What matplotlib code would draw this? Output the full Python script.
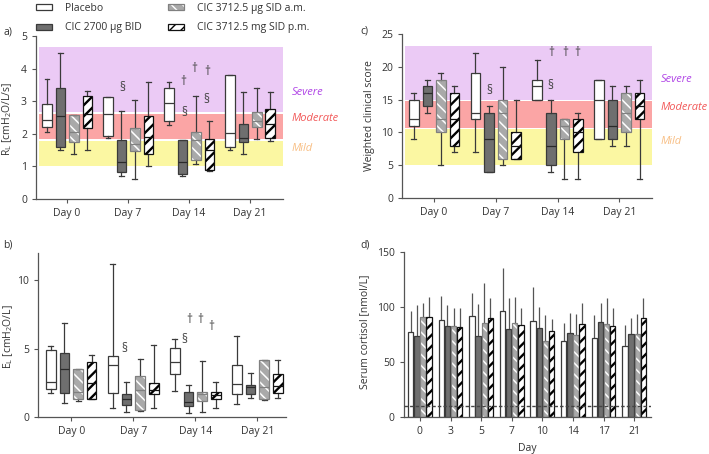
import numpy as np
import matplotlib.pyplot as plt
from matplotlib.patches import Patch, PathPatch
from matplotlib.legend_handler import HandlerTuple

plt.rcParams['font.family'] = ['Open Sans', 'DejaVu Sans']
plt.rcParams['font.size'] = 7.5
plt.rcParams['hatch.linewidth'] = 1.0

groups = ['Placebo', 'CIC 2700 µg BID', 'CIC 3712.5 µg SID a.m.', 'CIC 3712.5 mg SID p.m.']
box_days = ['Day 0', 'Day 7', 'Day 14', 'Day 21']

# box values per day: [whisker low, q1, median, q3, whisker high]
rl_placebo = [[2.07, 2.2, 2.42, 2.91, 3.68], [1.87, 1.92, 2.6, 3.12, 3.12],
              [2.28, 2.39, 2.94, 3.42, 3.58], [1.49, 1.58, 2.02, 3.79, 3.79]]
rl_2700 = [[1.51, 1.58, 2.55, 3.4, 4.48], [0.69, 0.84, 1.13, 1.82, 2.69],
           [0.69, 0.76, 1.13, 1.82, 1.82], [1.37, 1.74, 1.87, 2.3, 3.28]]
rl_am = [[1.37, 1.76, 2.04, 2.57, 2.58], [0.6, 1.46, 1.68, 2.17, 3.05],
         [1.08, 1.2, 1.82, 2.07, 3.15], [1.84, 2.2, 2.38, 2.66, 3.42]]
rl_pm = [[1.51, 2.19, 2.6, 3.15, 3.3], [1.02, 1.39, 1.9, 2.54, 3.58],
         [0.86, 0.89, 1.5, 1.83, 2.38], [1.78, 1.86, 2.3, 2.76, 3.28]]

el_placebo = [[1.74, 2.03, 2.54, 4.87, 5.16], [0.68, 1.74, 3.81, 4.47, 11.2],
              [1.93, 3.15, 4.0, 5.04, 5.7], [0.95, 1.66, 2.42, 3.77, 5.94]]
el_2700 = [[1.0, 1.74, 3.5, 4.67, 6.87], [0.39, 0.86, 1.32, 1.69, 2.52],
           [0.32, 0.83, 1.12, 1.81, 2.35], [1.37, 1.66, 2.22, 2.35, 3.2]]
el_am = [[1.17, 1.32, 1.81, 3.52, 3.52], [0.44, 0.51, 1.98, 3.0, 4.23],
         [0.39, 1.17, 1.66, 1.86, 4.06], [1.25, 1.3, 2.22, 4.18, 4.18]]
el_pm = [[1.32, 1.32, 2.5, 3.99, 4.5], [0.66, 1.66, 2.0, 2.47, 5.23],
         [0.64, 1.32, 1.6, 1.86, 2.59], [1.37, 1.78, 2.3, 3.13, 4.18]]

wcs_placebo = [[9, 11, 12, 15, 16], [7, 12, 13, 19, 22], [15, 15, 17, 18, 21], [9, 9, 15, 18, 18]]
wcs_2700 = [[13, 14, 16, 17, 18], [4, 4, 9, 13, 14], [4, 5, 8, 13, 15], [8, 9, 11, 15, 17]]
wcs_am = [[5, 10, 12, 18, 19], [5, 6, 13, 15, 20], [3, 9, 11, 12, 12], [8, 10, 13, 16, 17]]
wcs_pm = [[7, 8, 12, 16, 17], [6, 6, 8, 10, 15], [3, 7, 10, 12, 13], [3, 12, 14, 16, 18]]

# severity bands (low, high)
rl_bands = [(2.66, 4.65), (1.83, 2.62), (1.0, 1.78)]
wcs_bands = [(15.0, 23.1), (10.7, 14.8), (5.06, 10.5)]
band_names = ['Severe', 'Moderate', 'Mild']
rl_band_label_y = [3.27, 2.46, 1.55]
wcs_band_label_y = [18.0, 13.8, 8.6]

# significance marks (x in day-group units, y, symbol)
rl_marks = [(0.91, 3.42, '§'), (1.90, 3.6, '†'), (2.08, 4.0, '†'), (2.30, 3.9, '†'),
            (1.92, 2.65, '§'), (2.28, 3.05, '§')]
el_marks = [(0.85, 5.0, '§'), (1.82, 5.65, '§'), (1.90, 7.1, '†'), (2.085, 7.1, '†'),
            (2.25, 6.6, '†')]
wcs_marks = [(0.89, 16.3, '§'), (1.88, 17.2, '§'), (1.90, 22.1, '†'), (2.12, 22.1, '†'),
             (2.32, 22.1, '†')]

cort_days = ['0', '3', '5', '7', '10', '14', '17', '21']
cort_placebo = [77.7, 88.4, 92.0, 96.3, 87.2, 69.2, 71.7, 65.0]
cort_placebo_sd = [19, 22, 21, 39, 31, 16, 21, 19]
cort_2700 = [73.8, 82.9, 73.8, 80.2, 80.8, 76.2, 86.2, 75.3]
cort_2700_sd = [28, 19, 29, 28, 19, 18.5, 17.4, 14.6]
cort_am = [91.4, 82.9, 85.3, 85.9, 69.5, 74.7, 84.4, 75.9]
cort_am_sd = [12.2, 16.1, 36.5, 23.7, 23.4, 18.8, 23.7, 17.6]
cort_pm = [91.4, 82.3, 89.9, 83.8, 78.3, 84.4, 82.9, 89.9]
cort_pm_sd = [18.2, 16.7, 18.2, 15.2, 10.7, 19.8, 16.1, 18.8]
cort_limit = 10

band_colors = ['#ebcaf5', '#fba5a5', '#fbf7a2']
band_text_colors = ['#b044e6', '#f25a5a', '#f8bf85']
axis_color = '#555555'
text_color = '#333333'

styles = [
    dict(face='white', edge='#3a3a3a', hatch=None, hcolor=None, hlw=1.0),
    dict(face='#6f6f6f', edge='#3a3a3a', hatch=None, hcolor=None, hlw=1.0),
    dict(face='#a9a9a9', edge='#808080', hatch='\\\\\\', hcolor='white', hlw=1.1),
    dict(face='white', edge='#111111', hatch='///', hcolor='black', hlw=1.7),
]


def style_patch(ax, p, k):
    s = styles[k]
    p.set_facecolor(s['face'])
    if s['hatch']:
        p.set_hatch(s['hatch'])
        p.set_edgecolor(s['hcolor'])
        p.set_linewidth(0)
        if hasattr(p, 'set_hatch_linewidth'):
            p.set_hatch_linewidth(s['hlw'])
        outline = PathPatch(p.get_path(), transform=p.get_transform(), fill=False,
                            edgecolor=s['edge'], lw=0.9, zorder=p.get_zorder() + 0.1)
        ax.add_patch(outline)
    else:
        p.set_edgecolor(s['edge'])
        p.set_linewidth(0.9)


def setup_axes(ax):
    for side in ['top', 'right']:
        ax.spines[side].set_visible(False)
    for side in ['left', 'bottom']:
        ax.spines[side].set_color(axis_color)
        ax.spines[side].set_linewidth(0.9)
    ax.tick_params(length=3, width=0.8, color=axis_color, labelcolor=text_color, labelsize=7.5)


def box_panel(ax, series, ylim, yticks, xlim, bands=None, band_label_y=None, marks=()):
    setup_axes(ax)
    offsets = [-0.33, -0.11, 0.11, 0.33]
    for k, data in enumerate(series):
        stats = [dict(whislo=d[0], q1=d[1], med=d[2], q3=d[3], whishi=d[4]) for d in data]
        pos = np.arange(len(data)) + offsets[k]
        col = styles[k]['edge']
        res = ax.bxp(stats, positions=pos, widths=0.155, capwidths=0.08, patch_artist=True,
                     showfliers=False, manage_ticks=False,
                     whiskerprops=dict(color='#3a3a3a', lw=0.9),
                     capprops=dict(color='#3a3a3a', lw=0.9),
                     medianprops=dict(color=col if k != 1 else '#2a2a2a', lw=0.9),
                     boxprops=dict(zorder=2))
        for b in res['boxes']:
            style_patch(ax, b, k)
    if bands:
        x0 = 0.012
        for (lo, hi), c in zip(bands, band_colors):
            ax.axhspan(lo, hi, xmin=x0, xmax=1, color=c, lw=0, zorder=0)
        tr = ax.get_yaxis_transform()
        for name, yy, c in zip(band_names, band_label_y, band_text_colors):
            ax.text(1.035, yy, name, transform=tr, color=c, style='italic', fontsize=8,
                    va='center', ha='left')
    for x, y, s in marks:
        ax.text(x, y, s, ha='center', va='center', fontsize=8.5, color='#444444')
    ax.set_xlim(*xlim)
    ax.set_ylim(*ylim)
    ax.set_yticks(yticks)
    ax.set_xticks(range(len(box_days)))
    ax.set_xticklabels(box_days)


fig = plt.figure(figsize=(7.09, 4.54), dpi=100)

ax_a = fig.add_axes([0.0508, 0.5617, 0.3484, 0.359])
box_panel(ax_a, [rl_placebo, rl_2700, rl_am, rl_pm], (0, 5), [0, 1, 2, 3, 4, 5], (-0.51, 3.54),
          rl_bands, rl_band_label_y, rl_marks)
ax_a.set_ylabel(r'R$_\mathregular{L}$ [cmH$_\mathregular{2}$O/L/s]', color=text_color, fontsize=7.5)
ax_a.yaxis.set_label_coords(-0.090, 0.49)

ax_c = fig.add_axes([0.567, 0.5632, 0.3526, 0.3626])
box_panel(ax_c, [wcs_placebo, wcs_2700, wcs_am, wcs_pm], (0, 25), [0, 5, 10, 15, 20, 25], (-0.52, 3.53),
          wcs_bands, wcs_band_label_y, wcs_marks)
ax_c.set_ylabel('Weighted clinical score', color=text_color, fontsize=7.5)
ax_c.yaxis.set_label_coords(-0.108, 0.5)

ax_b = fig.add_axes([0.054, 0.0815, 0.3494, 0.3619])
box_panel(ax_b, [el_placebo, el_2700, el_am, el_pm], (0, 12), [0, 5, 10], (-0.53, 3.46),
          marks=el_marks)
ax_b.set_ylabel(r'E$_\mathregular{L}$ [cmH$_\mathregular{2}$O/L]', color=text_color, fontsize=7.5)
ax_b.yaxis.set_label_coords(-0.096, 0.49)

# panel d: serum cortisol bars
ax_d = fig.add_axes([0.5694, 0.0815, 0.3488, 0.3628])
setup_axes(ax_d)
x = np.arange(len(cort_days))
bar_off = [-0.3, -0.1, 0.1, 0.3]
for k, (vals, sd) in enumerate([(cort_placebo, cort_placebo_sd), (cort_2700, cort_2700_sd),
                                (cort_am, cort_am_sd), (cort_pm, cort_pm_sd)]):
    xs = x + bar_off[k]
    ax_d.errorbar(xs, vals, yerr=[np.zeros(len(vals)), sd], fmt='none', ecolor='#555555',
                  elinewidth=0.9, capsize=0, zorder=1)
    bars = ax_d.bar(xs, vals, width=0.175, zorder=2)
    for b in bars:
        style_patch(ax_d, b, k)
ax_d.axhline(cort_limit, ls=(0, (2.5, 1.5)), color='#444444', lw=1.0, zorder=3)
ax_d.set_xlim(-0.53, 7.55)
ax_d.set_ylim(0, 150)
ax_d.set_yticks([0, 50, 100, 150])
ax_d.set_xticks(x)
ax_d.set_xticklabels(cort_days)
ax_d.set_ylabel('Serum cortisol [nmol/L]', color=text_color, fontsize=7.5)
ax_d.yaxis.set_label_coords(-0.136, 0.516)
ax_d.set_xlabel('Day', color=text_color, fontsize=7.5)
ax_d.xaxis.set_label_coords(0.5, -0.155)

# panel letters
for xx, yy, lab in [(3, 32, 'a)'), (3, 245, 'b)'), (360, 31, 'c)'), (360, 245, 'd)')]:
    fig.text(xx / 709, 1 - yy / 454, lab, ha='left', va='center', fontsize=7.5, color=text_color)

# legend
handles = []
for k, s in enumerate(styles):
    if s['hatch']:
        h1 = Patch(facecolor=s['face'], hatch=s['hatch'], edgecolor=s['hcolor'], lw=0)
        h2 = Patch(fill=False, edgecolor=s['edge'], lw=0.9)
        handles.append((h1, h2))
    else:
        handles.append(Patch(facecolor=s['face'], edgecolor=s['edge'], lw=0.9))
fig.legend(handles, groups, loc='upper left', bbox_to_anchor=(31 / 709, 1.005), ncol=2,
           frameon=False, borderpad=0, handlelength=1.55, handleheight=0.5,
           handletextpad=1.25, columnspacing=2.45, labelspacing=0.8, fontsize=7.5,
           labelcolor=text_color, handler_map={tuple: HandlerTuple(ndivide=1, pad=0)})

fig.savefig('out.png', dpi=100)
